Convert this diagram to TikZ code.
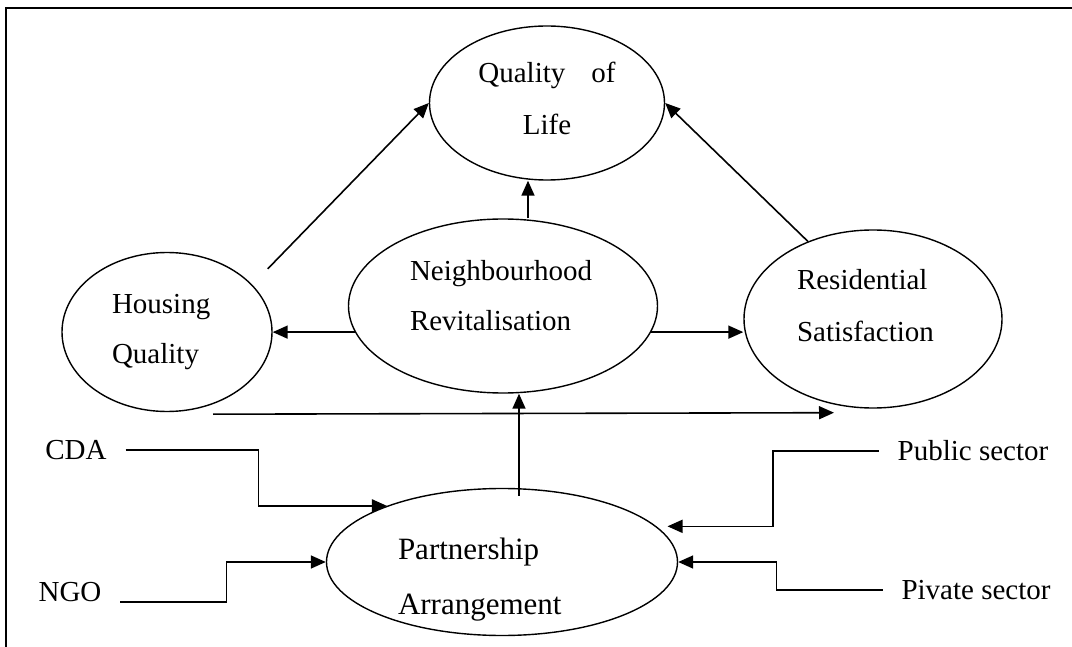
\documentclass[tikz,border=0pt]{standalone}
\usepackage{fontspec}
\setmainfont{Liberation Serif}
\usetikzlibrary{shapes.geometric,arrows.meta,positioning}

\begin{document}
\begin{tikzpicture}[
    x=1pt, y=-1pt,
    bubble/.style={ellipse, draw, line width=1.4pt, inner sep=0pt, align=left},
    lbl/.style={inner sep=0pt, outer sep=19pt, font=\fontsize{29}{34}\selectfont},
    arrow/.style={-{Triangle[length=15pt,width=13pt]}, line width=1.6pt}
]
    \useasboundingbox (0,0) rectangle (1072,647);
    \draw[line width=2.4pt] (6,647) -- (6,8) -- (1072,8);

    \node[bubble, minimum width=235pt, minimum height=154pt, align=center, text width=150pt, text depth=62pt, font=\fontsize{29}{52}\selectfont] (qol) at (547,103) {Quality\hspace{0.9em}of\\Life};
    \node[bubble, minimum width=210pt, minimum height=159pt, text width=110pt, font=\fontsize{29}{50}\selectfont] (house) at (167,332) {Housing\\Quality};
    \node[bubble, minimum width=309pt, minimum height=174pt, text width=186pt, text depth=72pt, font=\fontsize{29}{50}\selectfont] (neigh) at (503,306) {Neighbourhood\\Revitalisation};
    \node[bubble, minimum width=258pt, minimum height=178pt, text width=152pt, text depth=80pt, font=\fontsize{29}{52}\selectfont] (res) at (873,319) {Residential\\Satisfaction};
    \node[bubble, minimum width=351pt, minimum height=147pt, text width=208pt, text height=40pt, text depth=46pt, font=\fontsize{31}{55}\selectfont] (part) at (502,562) {Partnership\\Arrangement};

    \node[lbl] (cda) at (76,450) {CDA};
    \node[lbl] (ngo) at (70,592) {NGO};
    \node[lbl] (pub) at (973,451) {Public sector};
    \node[lbl] (piv) at (976,590) {Pivate sector};

    \draw[arrow, shorten <=22pt] (house.29) -- (qol.west);
    \draw[arrow] (res.130) -- (qol.east);
    \draw[arrow] ([xshift=25pt]neigh.north) -- ([xshift=25pt]neigh.north |- qol.south);
    \draw[arrow] (neigh.190) -- (neigh.190 -| house.east);
    \draw[arrow] (neigh.350) -- (neigh.350 -| res.west);
    \draw[arrow] ([xshift=46pt,yshift=-2pt]house.south) -- ([xshift=-39pt,yshift=-4pt]res.south);
    \draw[arrow] ([xshift=17pt,yshift=-8pt]part.north) -- ([xshift=17pt]part.north |- neigh.south);

    \draw[arrow] (cda.east) -- ++(133,0) |- (part.154);
    \draw[arrow] ([yshift=-10pt]ngo.east) -- ++(106,0) |- (part.west);
    \draw[arrow, shorten >=11pt] (pub.west) -- ++(-106,0) |- (part.13);
    \draw[arrow] (piv.west) -- ++(-106,0) |- (part.east);
\end{tikzpicture}
\end{document}
